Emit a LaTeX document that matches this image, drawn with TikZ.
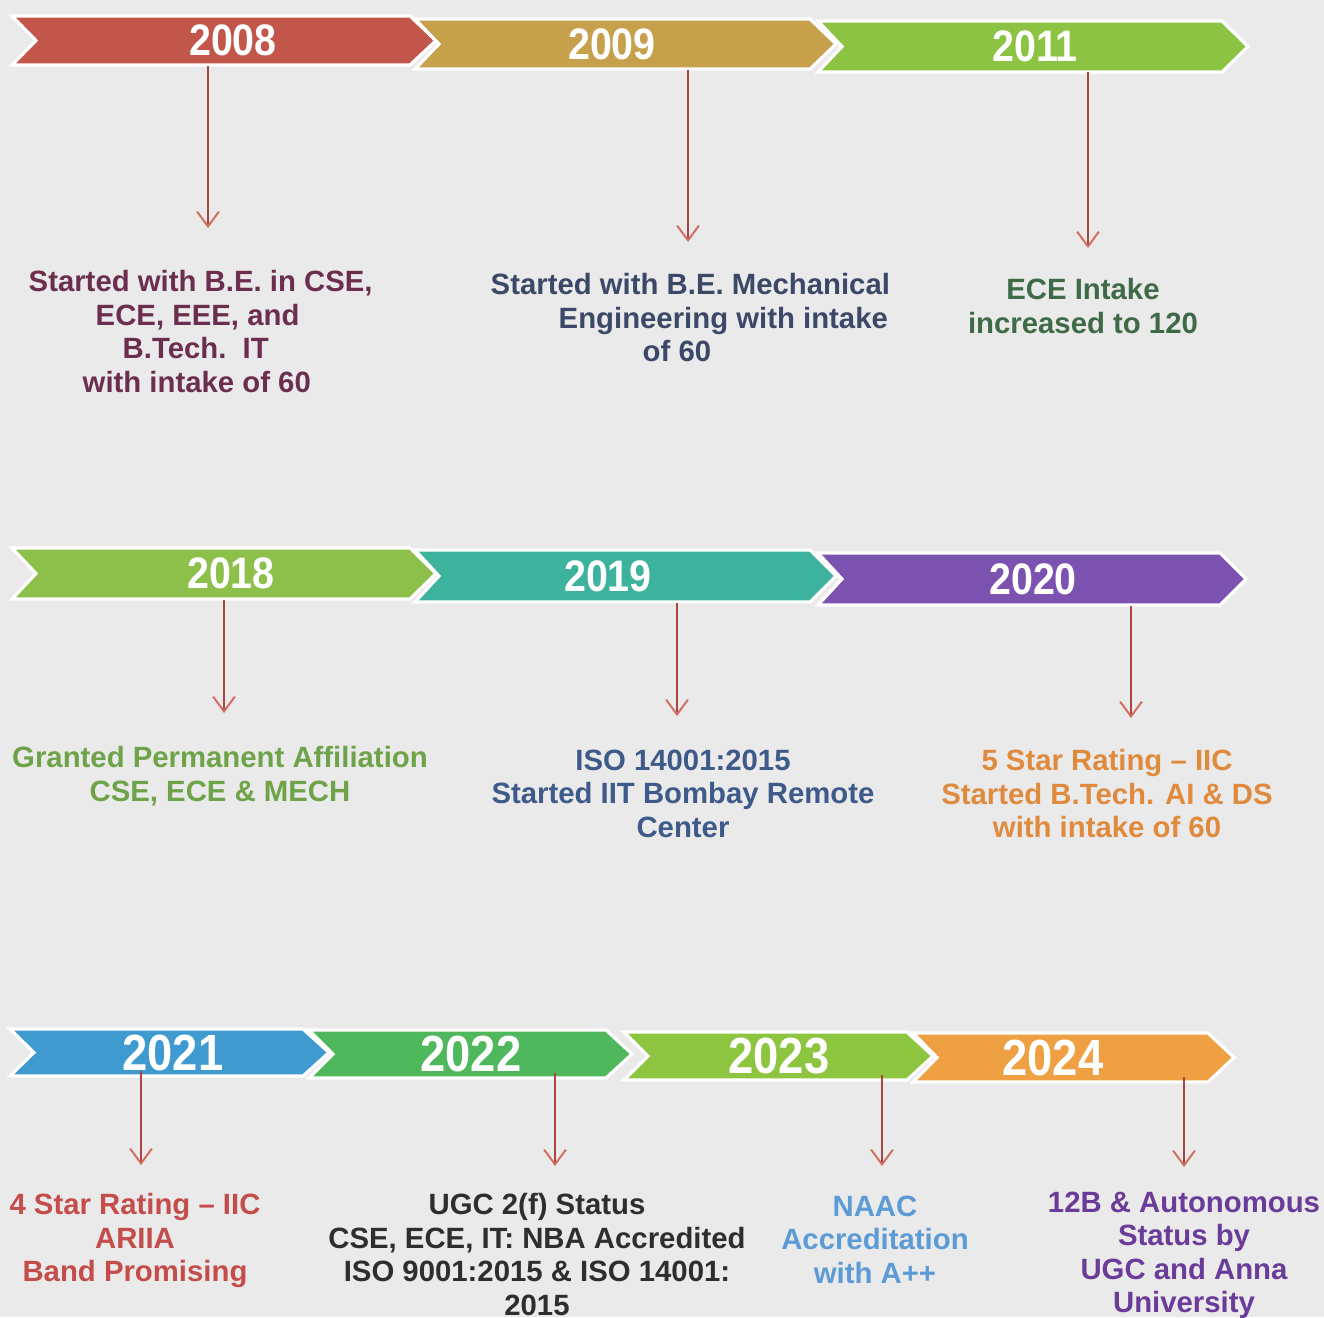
\documentclass[tikz,border=0pt]{standalone}
\usepackage{fontspec}
\usepackage{graphicx}
\setmainfont{Liberation Sans}
\usetikzlibrary{arrows.meta}

\newlength\px
\setlength\px{0.01cm}

\definecolor{bg}{HTML}{EAEAEA}
\definecolor{c2008}{HTML}{C2564A}
\definecolor{c2009}{HTML}{C7A04C}
\definecolor{c2011}{HTML}{8CC342}
\definecolor{c2018}{HTML}{8DC04B}
\definecolor{c2019}{HTML}{3DB39E}
\definecolor{c2020}{HTML}{7C52B0}
\definecolor{c2021}{HTML}{3F9AD0}
\definecolor{c2022}{HTML}{4FB75C}
\definecolor{c2023}{HTML}{8DC540}
\definecolor{c2024}{HTML}{EFA043}
\definecolor{linec}{HTML}{A8473F}
\definecolor{tipc}{HTML}{D36C5E}
\definecolor{t2008c}{HTML}{6C2E4E}
\definecolor{t2009c}{HTML}{3B4868}
\definecolor{t2011c}{HTML}{3E6A47}
\definecolor{t2018c}{HTML}{6EA349}
\definecolor{t2019c}{HTML}{3E5A8A}
\definecolor{t2020c}{HTML}{E08A3E}
\definecolor{t2021c}{HTML}{C44D4B}
\definecolor{t2022c}{HTML}{2E2E2E}
\definecolor{t2023c}{HTML}{5C9BD6}
\definecolor{t2024c}{HTML}{6A3B98}

% ribbon: name, left x, body end x, top y, bottom y, colour, label x, year
\newcommand\ribbon[8]{%
  \fill[#6, draw=white, line width=0.9pt, line join=miter]
    (#2,#4) -- (#3,#4) -- ({#3+26},{(#4+#5)/2}) -- (#3,#5) -- (#2,#5)
    -- ({#2+24},{(#4+#5)/2}) -- cycle;
  \node[yearlbl] (#1) at (#7,{(#4+#5)/2}) {#8};
}

\begin{document}
\begin{tikzpicture}[x=0.01cm, y=-0.01cm,
  yearlbl/.style={text=white, inner sep=0,
    font=\fontsize{11.2}{12}\selectfont\bfseries},
  conn/.style={draw=linec, line width=0.45pt,
    -{Straight Barb[length=4.2pt, width=6.2pt, color=tipc, line width=0.55pt]}},
  info/.style={inner sep=0, align=center,
    font=\fontsize{8.34}{9.5}\selectfont\bfseries},
  infol/.style={info, align=left}]

\fill[bg] (0,0) rectangle (1324,1317);
\useasboundingbox (0,0) rectangle (1324,1317);

% first row of ribbons
\ribbon{y2008}{12}{410}{16}{65}{c2008}{233}{\scalebox{1}[1.12]{2008}}
\ribbon{y2009}{415}{810}{19}{69}{c2009}{612}{\scalebox{1}[1.12]{2009}}
\ribbon{y2011}{818}{1222}{21}{72}{c2011}{1035}{\scalebox{1}[1.12]{2011}}

% second row of ribbons
\ribbon{y2018}{12}{410}{548}{599}{c2018}{231}{\scalebox{1}[1.12]{2018}}
\ribbon{y2019}{415}{810}{550}{602}{c2019}{608}{\scalebox{1}[1.12]{2019}}
\ribbon{y2020}{818}{1220}{553}{605}{c2020}{1033}{\scalebox{1}[1.12]{2020}}

% third row of ribbons
\ribbon{y2021}{10}{303}{1029}{1076}{c2021}{173}{\scalebox{1}[1.12]{\fontsize{12.9}{14}\selectfont 2021}}
\ribbon{y2022}{309}{606}{1030}{1078}{c2022}{471}{\scalebox{1}[1.12]{\fontsize{12.9}{14}\selectfont 2022}}
\ribbon{y2023}{624}{907}{1032}{1080}{c2023}{779}{\scalebox{1}[1.12]{\fontsize{12.9}{14}\selectfont 2023}}
\ribbon{y2024}{913}{1208}{1033}{1082}{c2024}{1053}{\scalebox{1}[1.12]{\fontsize{12.9}{14}\selectfont 2024}}

% connector ends
\coordinate (s2008) at (208,66);   \coordinate (e2008) at (208,228);
\coordinate (s2009) at (688,70);   \coordinate (e2009) at (688,242);
\coordinate (s2011) at (1088,72);  \coordinate (e2011) at (1088,248);
\coordinate (s2018) at (224,600);  \coordinate (e2018) at (224,713);
\coordinate (s2019) at (677,603);  \coordinate (e2019) at (677,716);
\coordinate (s2020) at (1131,606); \coordinate (e2020) at (1131,718);
\coordinate (s2021) at (141,1071); \coordinate (e2021) at (141,1165);
\coordinate (s2022) at (555,1073); \coordinate (e2022) at (555,1166);
\coordinate (s2023) at (882,1075); \coordinate (e2023) at (882,1166);
\coordinate (s2024) at (1184,1077);\coordinate (e2024) at (1184,1167);

\foreach \yr in {2008,2009,2011,2018,2019,2020,2021,2022,2023,2024}
  \draw[conn] (s\yr) -- (e\yr);

% milestone texts
\node[infol, text=t2008c, anchor=north west] (t2008) at (28,270)
  {Started with B.E. in CSE,\\
   \hspace*{67\px}ECE, EEE, and\\
   \hspace*{94\px}B.Tech.\ \ IT\\
   \hspace*{54\px}with intake of 60};
\node[infol, text=t2009c, anchor=north west] (t2009) at (490,273)
  {Started with B.E. Mechanical\\
   \hspace*{68\px}Engineering with intake\\
   \hspace*{152\px}of 60};
\node[info, text=t2011c, anchor=north] (t2011) at (1083,278)
  {ECE Intake\\increased to 120};

\node[info, text=t2018c, anchor=north] (t2018) at (220,746)
  {Granted Permanent Affiliation\\CSE, ECE \& MECH};
\node[info, text=t2019c, anchor=north] (t2019) at (683,749)
  {ISO 14001:2015\\Started IIT Bombay Remote\\Center};
\node[info, text=t2020c, anchor=north] (t2020) at (1107,749)
  {5 Star Rating -- IIC\\Started B.Tech. AI \& DS\\with intake of 60};

\node[info, text=t2021c, anchor=north] (t2021) at (135,1193)
  {4 Star Rating -- IIC\\ARIIA\\Band Promising};
\node[info, text=t2022c, anchor=north] (t2022) at (537,1193)
  {UGC 2(f) Status\\CSE, ECE, IT: NBA Accredited\\ISO 9001:2015 \& ISO 14001:\\2015};
\node[info, text=t2023c, anchor=north] (t2023) at (875,1195)
  {NAAC\\Accreditation\\with A++};
\node[info, text=t2024c, anchor=north] (t2024) at (1184,1191)
  {12B \& Autonomous\\Status by\\UGC and Anna\\University};

\end{tikzpicture}
\end{document}
